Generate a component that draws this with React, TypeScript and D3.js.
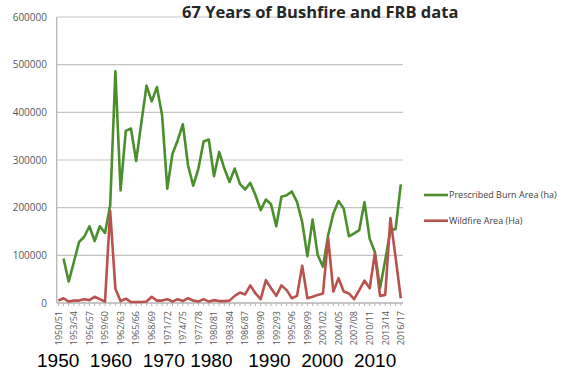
import * as d3 from 'd3';

import { useCallback } from 'react';

const seasons = [
  '1950/51', '1951/52', '1952/53', '1953/54', '1954/55', '1955/56', '1956/57', '1957/58', '1958/59', '1959/60',
  '1960/61', '1961/62', '1962/63', '1963/64', '1964/65', '1965/66', '1966/67', '1967/68', '1968/69', '1969/70',
  '1970/71', '1971/72', '1972/73', '1973/74', '1974/75', '1975/76', '1976/77', '1977/78', '1978/79', '1979/80',
  '1980/81', '1981/82', '1982/83', '1983/84', '1984/85', '1985/86', '1986/87', '1987/88', '1988/89', '1989/90',
  '1990/91', '1991/92', '1992/93', '1993/94', '1994/95', '1995/96', '1996/97', '1997/98', '1998/99', '1999/00',
  '2000/01', '2001/02', '2002/03', '2003/04', '2004/05', '2005/06', '2006/07', '2007/08', '2008/09', '2009/10',
  '2010/11', '2011/12', '2012/13', '2013/14', '2014/15', '2015/16', '2016/17',
];

// prescribed burn area (ha), no value for the first season
const prescribedBurn = [
  null, 93500, 45000, 86000, 128000, 139000, 161000, 130000, 161000, 147000,
  205000, 486000, 236000, 361000, 366000, 298000, 378000, 456000, 423000, 453000,
  394000, 240000, 313000, 341000, 375000, 289000, 246000, 282000, 339000, 343000,
  266000, 317000, 282000, 254000, 282000, 250000, 238000, 252000, 226000, 195000,
  217000, 207000, 161000, 223000, 226000, 234000, 212000, 170000, 98000, 175000,
  100000, 76000, 142000, 188000, 214000, 198000, 140000, 146000, 153000, 212000,
  135000, 107000, 31000, 90000, 153000, 155000, 249000,
];

// wildfire area (ha)
const wildfire = [
  5000, 10000, 3000, 5000, 5000, 8000, 6000, 13000, 8000, 3000,
  193000, 30000, 4000, 9000, 2000, 2000, 2000, 3000, 13000, 5000,
  5000, 8000, 3000, 8000, 4000, 10000, 5000, 3000, 8000, 3000,
  6000, 4000, 4000, 5000, 15000, 22000, 18000, 37000, 20000, 8000,
  48000, 31000, 15000, 37000, 27000, 10000, 15000, 78000, 10000, 13000,
  17000, 20000, 136000, 24000, 52000, 24000, 20000, 8000, 27000, 47000,
  31000, 104000, 15000, 17000, 178000, 95000, 10000,
];

const yTicks = [0, 100000, 200000, 300000, 400000, 500000, 600000];
const decadeLabel = '1950  1960  1970 1980   1990  2000  2010';

const series = [
  { name: 'Prescribed Burn Area (ha)', values: prescribedBurn, color: '#4b8f2c' },
  { name: 'Wildfire Area (Ha)', values: wildfire, color: '#b9524e' },
];

const width = 567;
const height = 373;
const axisLeft = 56.7;
const axisRight = 403;
const grey = '#595959';

const Chart = () => {
  const draw = useCallback((ref: SVGSVGElement | null) => {
    if (!ref) return;

    const svg = d3.select(ref);
    svg.selectAll('*').remove();

    const x = d3.scalePoint().domain(seasons).range([58.3, 400.8]);
    const y = d3.scaleLinear().domain([0, 600000]).range([303, 17]);

    svg.append('rect').attr('width', width).attr('height', height).attr('fill', 'white');

    // gridlines
    svg
      .append('g')
      .selectAll('line')
      .data(yTicks.slice(1))
      .join('line')
      .attr('x1', axisLeft)
      .attr('x2', axisRight)
      .attr('y1', (d) => y(d))
      .attr('y2', (d) => y(d))
      .attr('stroke', '#c3c3c3')
      .attr('stroke-width', 1.2);

    // axis lines
    svg
      .append('line')
      .attr('x1', axisLeft)
      .attr('x2', axisLeft)
      .attr('y1', y(600000))
      .attr('y2', y(0))
      .attr('stroke', '#b5b5b5')
      .attr('stroke-width', 1.3);
    svg
      .append('line')
      .attr('x1', axisLeft)
      .attr('x2', axisRight)
      .attr('y1', y(0))
      .attr('y2', y(0))
      .attr('stroke', '#b5b5b5')
      .attr('stroke-width', 1.3);

    svg
      .append('g')
      .selectAll('line')
      .data(seasons)
      .join('line')
      .attr('x1', (d) => x(d) || 0)
      .attr('x2', (d) => x(d) || 0)
      .attr('y1', y(0))
      .attr('y2', y(0) + 3)
      .attr('stroke', '#b5b5b5');

    // y labels
    svg
      .append('g')
      .selectAll('text')
      .data(yTicks)
      .join('text')
      .attr('x', 47)
      .attr('y', (d) => y(d))
      .attr('dy', '0.35em')
      .attr('text-anchor', 'end')
      .attr('font-family', 'Open Sans')
      .attr('font-size', 10)
      .attr('fill', grey)
      .text((d) => d);

    // x labels, every third season
    svg
      .append('g')
      .selectAll('text')
      .data(seasons.filter((_, i) => i % 3 === 0))
      .join('text')
      .attr('transform', (d) => `translate(${(x(d) || 0) + 3.3}, 311) rotate(-90)`)
      .attr('text-anchor', 'end')
      .attr('font-family', 'Open Sans')
      .attr('font-size', 9)
      .attr('fill', grey)
      .text((d) => d);

    // lines
    const line = d3
      .line<number | null>()
      .defined((d) => d !== null)
      .x((_, i) => x(seasons[i]) || 0)
      .y((d) => y(d as number));

    series.forEach((s) => {
      svg
        .append('path')
        .attr('d', line(s.values))
        .attr('fill', 'none')
        .attr('stroke', s.color)
        .attr('stroke-width', 2.6)
        .attr('stroke-linejoin', 'round');
    });

    // legend
    const legend = svg
      .append('g')
      .selectAll('g')
      .data(series)
      .join('g')
      .attr('transform', (_, i) => `translate(424, ${195 + i * 25.7})`);
    legend
      .append('line')
      .attr('x1', 0)
      .attr('x2', 24)
      .attr('stroke', (d) => d.color)
      .attr('stroke-width', 2.6);
    legend
      .append('text')
      .attr('x', 25)
      .attr('dy', '0.35em')
      .attr('font-family', 'Open Sans')
      .attr('font-size', 9)
      .attr('fill', '#404040')
      .text((d) => d.name);

    // title
    svg
      .append('text')
      .attr('x', 182)
      .attr('y', 18)
      .attr('font-family', 'Open Sans')
      .attr('font-weight', 'bold')
      .attr('font-size', 16.5)
      .attr('fill', '#262626')
      .text('67 Years of Bushfire and FRB data');

    // decades under the axis
    svg
      .append('text')
      .attr('x', 37)
      .attr('y', 367)
      .attr('font-family', 'Liberation Sans')
      .attr('font-size', 19)
      .attr('fill', 'black')
      .style('white-space', 'pre')
      .text(decadeLabel);
  }, []);

  return <svg width={width} height={height} ref={draw}></svg>;
};

const App = () => (
  <div style={{ position: 'absolute', left: 0, top: 0 }}>
    <Chart />
  </div>
);

export default App;
